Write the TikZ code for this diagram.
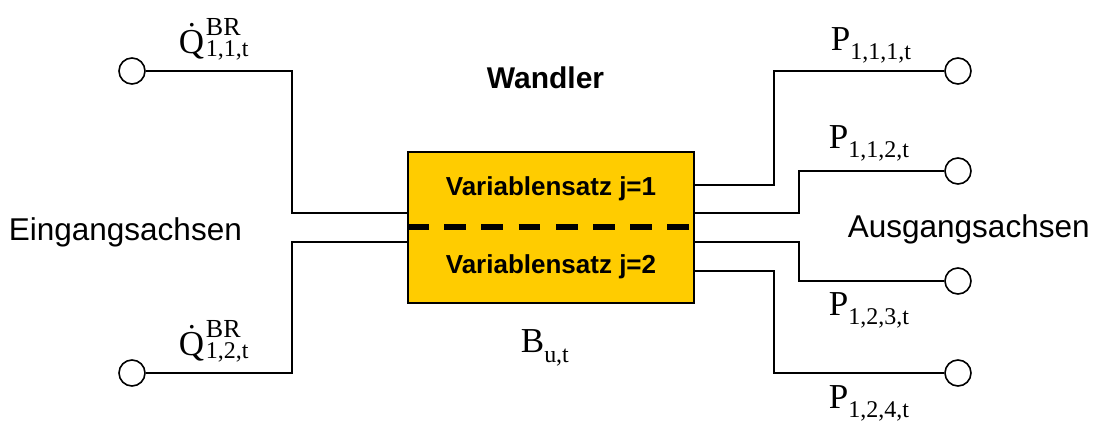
\documentclass[tikz,border=0pt]{standalone}
\usepackage{fontspec}
\setmainfont{Liberation Sans}
\newfontfamily\tnr{Liberation Serif}

\definecolor{wgold}{RGB}{255,204,0}

% formula labels: symbol with lowered index
\newcommand{\symsub}[3][9pt]{{\tnr\fontsize{35}{35}\selectfont #2\raisebox{-#1}{\fontsize{24}{24}\selectfont #3}}}

\begin{document}
\begin{tikzpicture}[x=1pt, y=-1pt, line width=1.8pt,                                          % pixel grid, y downwards
        port/.style = {circle, draw, line width=1.6pt, minimum size=26pt, inner sep=0pt},         % axis terminals
        wandlerbox/.style = {draw, fill=wgold, line width=2pt, minimum width=286pt, minimum height=151pt, inner sep=0pt},
        lbl/.style = {inner sep=0pt, anchor=base west},
        symlbl/.style = {lbl, font=\tnr\fontsize{35}{35}\selectfont},
        idxlbl/.style = {lbl, font=\tnr\fontsize{24}{24}\selectfont},
        setlbl/.style = {inner sep=0pt, anchor=base, font=\bfseries\fontsize{26}{26}\selectfont}]
    \useasboundingbox (0,0) rectangle (1096,421);

    \node[wandlerbox] (wandler) at (551,227.5) {};
    \coordinate (dashy) at (0,227);
    \draw[line width=6pt, dash pattern=on 21.7pt off 15.5pt] (wandler.west |- dashy) -- (wandler.east |- dashy);
    \node[setlbl] (set1) at (551,195) {Variablensatz j=1};
    \node[setlbl] (set2) at (551,273) {Variablensatz j=2};
    \node[inner sep=0pt, anchor=base, font=\bfseries\fontsize{30}{30}\selectfont] (title) at (545.5,88) {Wandler};

    \node[lbl, font=\fontsize{31.5}{31.5}\selectfont] (inlbl) at (8,240) {Eingangsachsen};
    \node[lbl, font=\fontsize{31.5}{31.5}\selectfont] (outlbl) at (847,237) {Ausgangsachsen};

    % terminals
    \node[port] (inA) at (132,71) {};
    \node[port] (inB) at (132,373) {};
    \node[port] (outA) at (958,71) {};
    \node[port] (outB) at (958,171) {};
    \node[port] (outC) at (958,281) {};
    \node[port] (outD) at (958,373) {};

    % input axes
    \draw (inA.east) -| ([xshift=-115pt,yshift=14.5pt]wandler.west) -- ([yshift=14.5pt]wandler.west);
    \draw (inB.east) -| ([xshift=-115pt,yshift=-14.5pt]wandler.west) -- ([yshift=-14.5pt]wandler.west);
    % output axes
    \foreach \dy/\dx/\p in {42.5/79/outA, 14.5/104/outB, -14.5/104/outC, -43.5/79/outD}
        \draw ([yshift=\dy pt]wandler.east) -- ++(\dx,0) |- (\p.west);

    % heat flows at the inputs
    \node[symlbl] (qA) at (178,53) {\.Q};
    \node[idxlbl, font=\tnr\fontsize{26}{26}\selectfont] (qAsup) at ([yshift=18pt]qA.base east) {BR};
    \node[idxlbl] (qAsub) at ([yshift=-3.5pt]qA.base east) {1,1,t};
    \node[symlbl] (qB) at (178,355) {\.Q};
    \node[idxlbl, font=\tnr\fontsize{26}{26}\selectfont] (qBsup) at ([yshift=18pt]qB.base east) {BR};
    \node[idxlbl] (qBsub) at ([yshift=-3.5pt]qB.base east) {1,2,t};

    \node[lbl] (pA) at (830,50) {\symsub{P}{1,1,1,t}};
    \node[lbl] (pB) at (828,148) {\symsub{P}{1,1,2,t}};
    \node[lbl] (pC) at (828,315) {\symsub{P}{1,2,3,t}};
    \node[lbl] (pD) at (828,408) {\symsub{P}{1,2,4,t}};
    \node[lbl] (bu) at (520,352) {\symsub[10pt]{B}{u,t}};
\end{tikzpicture}
\end{document}
